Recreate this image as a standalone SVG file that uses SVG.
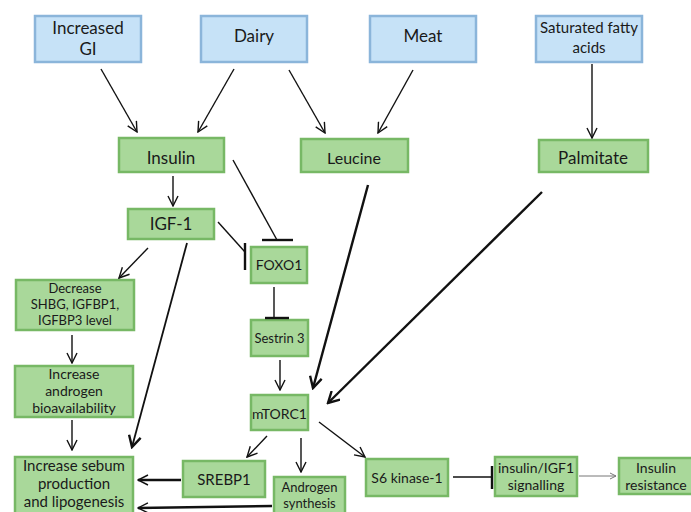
<svg xmlns="http://www.w3.org/2000/svg" width="691" height="512" viewBox="0 0 691 512">
<defs>
<marker id="ah" markerUnits="userSpaceOnUse" viewBox="0 0 12 12" refX="11" refY="6" markerWidth="12" markerHeight="12" orient="auto">
<path d="M1,1 L11,6 L1,11" fill="none" stroke="#111" stroke-width="1.4"/>
</marker>
<marker id="ahb" markerUnits="userSpaceOnUse" viewBox="0 0 14 14" refX="12" refY="7" markerWidth="14" markerHeight="14" orient="auto">
<path d="M1,1 L12,7 L1,13" fill="none" stroke="#111" stroke-width="2.4"/>
</marker>
<marker id="ahg" markerUnits="userSpaceOnUse" viewBox="0 0 8 8" refX="7" refY="4" markerWidth="8" markerHeight="8" orient="auto">
<path d="M1,1 L7,4 L1,7" fill="none" stroke="#777" stroke-width="1"/>
</marker>
</defs>
<style>
.b{fill:#c6e2f7;stroke:#8bb5da;stroke-width:2.5}
.g{fill:#a9d89a;stroke:#77b865;stroke-width:2.5}
text{font-family:Lato,"Open Sans",sans-serif;fill:#1a1a1a;text-anchor:middle}
.t17{font-size:17px}
.t16{font-size:16px}
.t15{font-size:15px}
.t14{font-size:14px}
.t13{font-size:13px}
.c{fill:none;stroke:#111;stroke-width:1.4}
.k{fill:none;stroke:#111;stroke-width:2.4}
.inh{fill:none;stroke:#111;stroke-width:2.4}
</style>
<rect width="691" height="512" fill="#fff"/>
<g id="n-gi"><rect class="b" x="35" y="16" width="106" height="46"/><text class="t17" x="88" y="34">Increased</text><text class="t17" x="88" y="55">GI</text></g>
<g id="n-dairy"><rect class="b" x="201" y="16" width="106" height="46"/><text class="t17" x="254" y="42">Dairy</text></g>
<g id="n-meat"><rect class="b" x="370" y="16" width="106" height="46"/><text class="t17" x="423" y="42">Meat</text></g>
<g id="n-sfa"><rect class="b" x="536" y="16" width="106" height="46"/><text class="t15" x="589" y="33">Saturated fatty</text><text class="t15" x="589" y="53">acids</text></g>
<g id="n-insulin"><rect class="g" x="119" y="138" width="105" height="34"/><text class="t17" x="171" y="164">Insulin</text></g>
<g id="n-leucine"><rect class="g" x="301" y="139" width="107" height="33"/><text class="t16" x="354" y="164">Leucine</text></g>
<g id="n-palmitate"><rect class="g" x="539" y="140" width="109" height="32"/><text class="t17" x="593" y="164">Palmitate</text></g>
<g id="n-igf1"><rect class="g" x="128" y="209" width="86" height="30"/><text class="t17" x="171" y="230">IGF-1</text></g>
<g id="n-foxo1"><rect class="g" x="251" y="247" width="56" height="36"/><text class="t14" x="279" y="270">FOXO1</text></g>
<g id="n-decrease"><rect class="g" x="16" y="280" width="118" height="50"/><text class="t13" x="75" y="293">Decrease</text><text class="t13" x="75" y="309">SHBG, IGFBP1,</text><text class="t13" x="75" y="325">IGFBP3 level</text></g>
<g id="n-sestrin"><rect class="g" x="251" y="320" width="57" height="36"/><text class="t13" x="279.5" y="343">Sestrin 3</text></g>
<g id="n-androgen-bio"><rect class="g" x="15" y="366" width="118" height="51"/><text class="t14" x="74" y="379">Increase</text><text class="t14" x="74" y="396">androgen</text><text class="t14" x="74" y="413">bioavailability</text></g>
<g id="n-mtorc1"><rect class="g" x="251" y="395" width="57" height="35"/><text class="t14" x="279.5" y="419">mTORC1</text></g>
<g id="n-sebum"><rect class="g" x="15" y="457" width="118" height="60"/><text class="t15" x="74" y="471">Increase sebum</text><text class="t15" x="74" y="489">production</text><text class="t15" x="74" y="507">and lipogenesis</text></g>
<g id="n-srebp1"><rect class="g" x="183" y="461" width="82" height="36"/><text class="t15" x="224" y="485">SREBP1</text></g>
<g id="n-androgen-syn"><rect class="g" x="274" y="477" width="71" height="40"/><text class="t13" x="309.5" y="492">Androgen</text><text class="t13" x="309.5" y="508">synthesis</text></g>
<g id="n-s6k"><rect class="g" x="366" y="459" width="82" height="37"/><text class="t14" x="407" y="483">S6 kinase-1</text></g>
<g id="n-insigf"><rect class="g" x="495" y="457" width="82" height="39"/><text class="t14" x="536" y="473">insulin/IGF1</text><text class="t14" x="536" y="490">signalling</text></g>
<g id="n-insres"><rect class="g" x="619" y="458" width="80" height="36"/><text class="t14" x="656" y="473">Insulin</text><text class="t14" x="656" y="490">resistance</text></g>
<g id="connectors">
<line class="c" x1="101" y1="69" x2="137" y2="132" marker-end="url(#ah)"/>
<line class="c" x1="234" y1="69" x2="198" y2="132" marker-end="url(#ah)"/>
<line class="c" x1="289" y1="70" x2="325" y2="133" marker-end="url(#ah)"/>
<line class="c" x1="413" y1="70" x2="378" y2="133" marker-end="url(#ah)"/>
<line class="c" x1="592" y1="64" x2="592" y2="138" marker-end="url(#ah)"/>
<line class="c" x1="173" y1="176" x2="173" y2="206" marker-end="url(#ah)"/>
<line class="c" x1="233" y1="160" x2="277" y2="240"/>
<line class="inh" x1="262" y1="240" x2="293" y2="240"/>
<line class="c" x1="218" y1="222" x2="245" y2="252"/>
<line class="inh" x1="245" y1="243" x2="245" y2="270"/>
<line class="c" x1="148" y1="248" x2="119" y2="278" marker-end="url(#ah)"/>
<line class="k" x1="187" y1="243" x2="132" y2="447" marker-end="url(#ahb)" style="stroke-width:1.8"/>
<line class="c" x1="274" y1="287" x2="274" y2="318"/>
<line class="inh" x1="265" y1="318" x2="289" y2="318"/>
<line class="c" x1="72" y1="335" x2="72" y2="363" marker-end="url(#ah)"/>
<line class="c" x1="72" y1="420" x2="72" y2="450" marker-end="url(#ah)"/>
<line class="k" x1="368" y1="185" x2="313" y2="388" marker-end="url(#ahb)"/>
<line class="k" x1="542" y1="192" x2="328" y2="403" marker-end="url(#ahb)"/>
<line class="c" x1="280" y1="360" x2="280" y2="390" marker-end="url(#ah)"/>
<line class="c" x1="267" y1="436" x2="247" y2="457" marker-end="url(#ah)"/>
<line class="c" x1="301" y1="438" x2="301" y2="472" marker-end="url(#ah)"/>
<line class="c" x1="319" y1="422" x2="365" y2="457" marker-end="url(#ah)"/>
<line class="k" x1="181" y1="480" x2="138" y2="480" marker-end="url(#ah)"/>
<line class="k" x1="272" y1="506" x2="138" y2="508" marker-end="url(#ah)"/>
<line class="c" x1="453" y1="477" x2="492" y2="477"/>
<line class="inh" x1="492" y1="466" x2="492" y2="489"/>
<line x1="579" y1="476" x2="616" y2="476" stroke="#777" stroke-width="1" marker-end="url(#ahg)"/>
</g>
</svg>
